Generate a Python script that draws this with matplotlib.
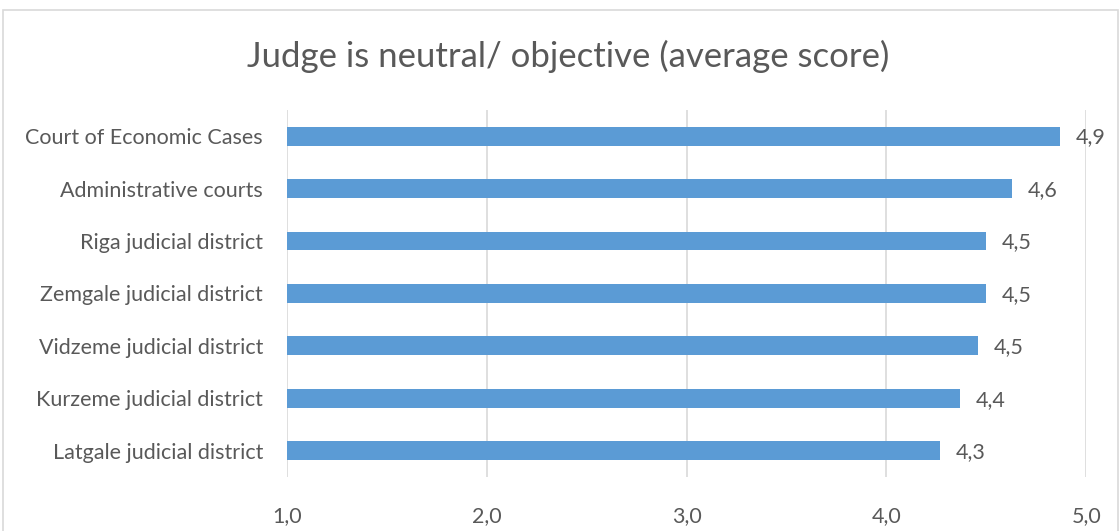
import matplotlib.pyplot as plt
from matplotlib.patches import Rectangle

# average score per court / judicial district (bottom to top)
courts = ["Latgale judicial district", "Kurzeme judicial district",
          "Vidzeme judicial district", "Zemgale judicial district",
          "Riga judicial district", "Administrative courts",
          "Court of Economic Cases"]
scores = [4.27, 4.37, 4.46, 4.50, 4.50, 4.63, 4.87]
xticks = [1.0, 2.0, 3.0, 4.0, 5.0]

plt.rcParams['font.family'] = ['Lato', 'DejaVu Sans']
text_col = '#595959'

fig = plt.figure(figsize=(11.2, 5.31), dpi=100)
ax = fig.add_axes([0.256, 0.102, 0.714, 0.691])

ax.barh(range(len(courts)), [s - 1.0 for s in scores], left=1.0,
        height=0.36, color='#5B9BD5', zorder=3)
for i, s in enumerate(scores):
    ax.annotate(f"{s:.1f}".replace('.', ','), (s, i), xytext=(11, -1),
                textcoords='offset points', va='center', ha='left',
                fontsize=15.5, color=text_col)

ax.set_xlim(1.0, 5.0)
ax.set_ylim(-0.5, len(courts) - 0.5)
ax.set_xticks(xticks)
ax.set_xticklabels([f"{t:.1f}".replace('.', ',') for t in xticks])
ax.set_yticks(range(len(courts)))
ax.set_yticklabels(courts)
ax.tick_params(axis='x', length=0, pad=21, labelsize=15.5, colors=text_col)
ax.tick_params(axis='y', length=0, pad=17, labelsize=15.5, colors=text_col)
ax.grid(axis='x', color='#D9D9D9', linewidth=1.2, zorder=0)
for sp in ax.spines.values():
    sp.set_visible(False)

fig.text(0.507, 0.893, "Judge is neutral/ objective (average score)",
         ha='center', va='center', fontsize=25, color=text_col)

# light frame around the chart
fig.patches.append(Rectangle((0.003, -0.05), 0.995, 1.031, transform=fig.transFigure,
                             fill=False, edgecolor='#D9D9D9', linewidth=1.2))

fig.savefig('out.png', dpi=100)
